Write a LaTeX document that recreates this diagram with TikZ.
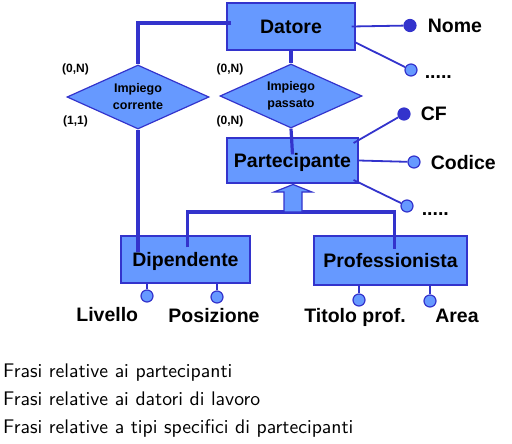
\documentclass[tikz,border=0pt]{standalone}
\usepackage{fontspec}
\newfontfamily\arialfont{Liberation Sans}
\newfontfamily\frasefont{lmsans10-regular.otf}
\usepackage{xcolor}
\usepackage{tikz}
\usetikzlibrary{shapes.geometric,positioning,calc}
\definecolor{erfill}{RGB}{102,153,255}
\definecolor{erline}{RGB}{51,51,204}

\begin{document}
\begin{tikzpicture}[x=1pt,y=-1pt,
  entity/.style={draw=erline,line width=1.2pt,fill=erfill,inner sep=0pt,text height=14pt,text depth=0pt,
    font=\arialfont\bfseries\fontsize{19.5}{22}\selectfont},
  rel/.style={diamond,draw=erline,line width=1.2pt,fill=erfill,inner sep=0pt,aspect=2.2,
    minimum width=142pt,minimum height=64pt,align=center,
    font=\arialfont\bfseries\fontsize{12.5}{17}\selectfont},
  card/.style={font=\arialfont\bfseries\fontsize{12}{14}\selectfont,inner sep=0pt},
  link/.style={draw=erline,line width=3.2pt},
  attrline/.style={draw=erline,line width=1.8pt},
  keyattr/.style={circle,draw=erline,fill=erline,line width=1.2pt,minimum size=12pt,inner sep=0pt},
  attr/.style={circle,draw=erline,fill=erfill,line width=1.2pt,minimum size=12pt,inner sep=0pt},
  lbl/.style={font=\arialfont\bfseries\fontsize{19.5}{22}\selectfont,text height=14pt,text depth=0pt,inner sep=1pt},
  frase/.style={font=\frasefont\fontsize{19.7}{28}\selectfont,inner sep=0pt,anchor=base west}]
  \useasboundingbox (0,0) rectangle (512,444);

  % entities and relationships
  \node[entity,minimum width=128pt,minimum height=47pt] (datore) at (291,26.5) {Datore};
  \node[rel] (icorr) at (138,97) {Impiego\\corrente};
  \node[rel] (ipass) at (291,96) {Impiego\\passato};
  \node[entity,minimum width=131pt,minimum height=45pt] (part) at (292.5,160.5) {Partecipante};
  \node[entity,minimum width=129pt,minimum height=47pt] (dip) at (185.5,259.5) {Dipendente};
  \node[entity,minimum width=153pt,minimum height=49pt] (prof) at (390.5,260.5) {Professionista};

  % cardinalities
  \node[card] (c1) at (75.5,69) {(0,N)};
  \node[card] (c2) at (75.5,121) {(1,1)};
  \node[card] (c3) at (230,69) {(0,N)};
  \node[card] (c4) at (230,121) {(0,N)};

  % relationship links
  \draw[link] ([shift={(5pt,3.5pt)}]datore.west) -| (icorr.north);
  \draw[link] (icorr.south) -- ($(icorr.south |- dip.north)+(0,17)$);
  \draw[link] (datore.south) -- (ipass.north);
  \draw[link] (ipass.south) -- ($(part.north)+(0,17)$);

  % generalization
  \coordinate (hub) at (293,212);
  \draw[link] ($(dip.north)+(2,12)$) |- (hub) -| ($(prof.north)+(4,14)$);
  \draw[draw=erline,fill=erfill,line width=1.2pt]
    (284,212) -- (284,192) -- (274,192) -- (293,184.5) -- (312,192) -- (302,192) -- (302,212) -- cycle;

  % attributes of Datore
  \node[keyattr] (nome) at (410,25.5) {};
  \node[attr] (altriD) at (411,70) {};
  \draw[attrline] ([xshift=-4pt]datore.east) -- (nome);
  \draw[attrline] ([yshift=-16pt]datore.east) -- (altriD);
  \node[lbl,right=10pt of nome] (nomel) {Nome};
  \node[lbl,right=6pt of altriD,yshift=-2pt] (altriDl) {.....};

  % attributes of Partecipante
  \node[keyattr] (cf) at (404,114) {};
  \node[attr] (codice) at (414,162) {};
  \node[attr] (altriP) at (407,206) {};
  \draw[attrline] ([shift={(-5pt,17.5pt)}]part.east) -- (cf);
  \draw[attrline] (part.east) -- (codice);
  \draw[attrline] ([shift={(-5pt,-19.5pt)}]part.east) -- (altriP);
  \node[lbl,right=9pt of cf] (cfl) {CF};
  \node[lbl,right=9pt of codice] (codicel) {Codice};
  \node[lbl,right=7pt of altriP,yshift=-2pt] (altriPl) {.....};

  % attributes of the subentities
  \node[attr] (livello) at (147,296) {};
  \node[attr] (posizione) at (217,297) {};
  \node[attr] (titolo) at (359,300) {};
  \node[attr] (area) at (430,301) {};
  \foreach \a/\e in {livello/dip,posizione/dip,titolo/prof,area/prof}
    \draw[attrline] (\a |- \e.south) -- (\a);
  \node[lbl,below left=6pt and 3pt of livello] (livellol) {Livello};
  \node[lbl,below=4pt of posizione,xshift=-3pt] (posizionel) {Posizione};
  \node[lbl,below=1pt of titolo,xshift=-4pt] (titolol) {Titolo prof.};
  \node[lbl,below=0pt of area,xshift=27pt] (areal) {Area};

  % sentences
  \node[frase] (f1) at (3,377) {Frasi relative ai partecipanti};
  \node[frase] (f2) at (3,405) {Frasi relative ai datori di lavoro};
  \node[frase] (f3) at (3,433) {Frasi relative a tipi specifici di partecipanti};
\end{tikzpicture}
\end{document}
